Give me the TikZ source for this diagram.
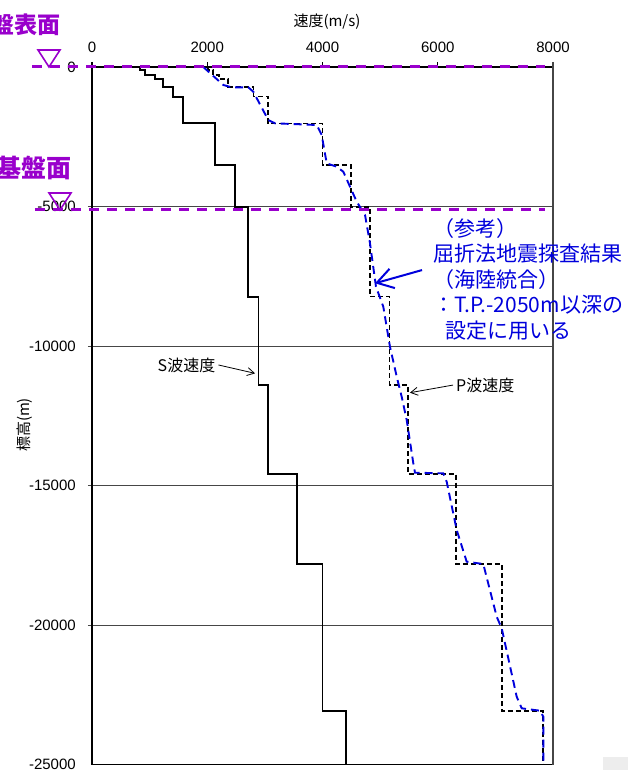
\documentclass[tikz,border=0pt]{standalone}
\usepackage{fontspec}
\setmainfont{Liberation Sans}
\newfontfamily\jp{Noto Sans CJK JP}
\usetikzlibrary{arrows.meta}
\definecolor{levelpurple}{RGB}{153,0,204}
\definecolor{refblue}{RGB}{0,0,220}
\definecolor{gridgray}{RGB}{70,70,70}

\begin{document}
\begin{tikzpicture}[x=57.625pt, y=27.9pt,
	gridline/.style={gridgray, line width=1pt},
	swave/.style={black, line width=1.9pt},
	pwave/.style={black, line width=1.7pt, dash pattern=on 5pt off 3pt},
	refwave/.style={refblue, line width=1.9pt, dash pattern=on 8pt off 5pt},
	levelline/.style={levelpurple, line width=3pt, dash pattern=on 10pt off 8pt},
	leveltri/.style={levelpurple, line width=1.6pt},
	levellbl/.style={levelpurple, anchor=east, inner sep=0pt},
	ticklbl/.style={font=\fontsize{15}{18}\selectfont, inner sep=0pt},
	jplbl/.style={font=\jp\fontsize{15}{18}\selectfont, inner sep=0pt},
	wavelbl/.style={font=\jp\fontsize{16}{19}\selectfont, inner sep=3pt},
	lblarrow/.style={-{Straight Barb[length=7pt,width=8pt]}, line width=0.8pt},
	reftext/.style={refblue, font=\jp\fontsize{21}{25.5}\selectfont, align=left, anchor=north west, inner sep=0pt},
	refarrow/.style={refblue, line width=2pt, -{Straight Barb[length=16pt,width=20pt]}}
	]
	\useasboundingbox (-92pt,-703pt) rectangle (536pt,67pt);
	\fill[black!7] (511pt,-690pt) rectangle (536pt,-703pt);
	
	% Gridlines
	\foreach \d in {5,10,15,20}
		\draw[gridline] (-0.07,-\d) -- (8,-\d);
	
	% Axes
	\draw[line width=1.5pt] (0,0) -- (8,0);
	\draw[line width=1.2pt] (0,0.18) -- (0,-25) -- (8,-25);
	\draw[gridgray, line width=1.5pt] (8,0.18) -- (8,-25);
	\foreach \v in {2,4,6}
		\draw[line width=1pt] (\v,0) -- (\v,0.18);
	\foreach \v/\t in {0/0,2/2000,4/4000,6/6000,8/8000}
		\node[ticklbl] (vx\v) at (\v,0.699) {\t};
	\foreach \d/\t in {0/0,5/-5000,10/-10000,15/-15000,20/-20000,25/-25000}
		\node[ticklbl, anchor=east] (dz\d) at (-0.278,-\d) {\t};
	\node[jplbl] (xlab) at (4.078,1.613) {速度(m/s)};
	\node[jplbl, rotate=90] (ylab) at (-1.171,-12.83) {標高(m)};
	
	% S wave
	\draw[swave] (0.71,0) -- (0.83,0) |- (0.92,-0.11) |- (1.09,-0.29) |- (1.23,-0.43) |- (1.41,-0.72) |- (1.58,-1.06) |- (2.13,-2.02) |- (2.48,-3.51) |- (2.71,-5.01) |- (2.89,-8.23) |- (3.06,-11.40) |- (3.56,-14.59) |- (4.00,-17.81) |- (4.40,-23.08) -- (4.40,-25);
	
	% P wave
	\draw[pwave] (2.01,0) |- (2.10,-0.11) |- (2.20,-0.29) |- (2.365,-0.43) |- (2.80,-0.72) |- (3.06,-1.06) |- (4.00,-2.02) |- (4.49,-3.51) |- (4.82,-5.01) |- (5.16,-8.23) |- (5.48,-11.40) |- (6.32,-14.59) |- (7.11,-17.81) |- (7.83,-23.08) -- (7.83,-25);
	
	% Refraction survey
	\draw[refwave] (1.931,0) -- (2.279,-0.645) -- (2.424,-0.728) -- (2.712,-0.728) -- (2.799,-0.885) -- (3.059,-1.900) -- (3.176,-2.018) -- (3.899,-2.079) -- (3.986,-2.437) -- (4.073,-3.452) -- (4.246,-3.573) -- (4.361,-3.753) -- (4.594,-4.828) -- (4.738,-5.305) -- (4.824,-6.319) -- (4.928,-7.875) -- (5.055,-8.591) -- (5.171,-10.025) -- (5.288,-11.100) -- (5.374,-11.817) -- (5.461,-12.652) -- (5.576,-14.204) -- (5.605,-14.541) -- (6.096,-14.563) -- (6.155,-14.864) -- (6.329,-16.595) -- (6.502,-17.731) -- (6.790,-17.814) -- (7.023,-19.703) -- (7.110,-20.118) -- (7.370,-22.570) -- (7.457,-22.986) -- (7.774,-23.072) -- (7.832,-23.287) -- (7.832,-25);
	
	% Labels
	\node[wavelbl] (slab) at (1.640,-10.68) {S波速度};
	\coordinate (stip) at (2.829,-10.98);
	\draw[lblarrow] (slab.east) -- (stip);
	\node[wavelbl] (plab) at (6.825,-11.40) {P波速度};
	\coordinate (ptip) at (5.518,-11.674);
	\draw[lblarrow] (plab.west) -- (ptip);
	\node[reftext] (ref) at (5.918,-5.412) {（参考）\\屈折法地震探査結果\\（海陸統合）\\：T.P.-2050m以深の\\\hspace*{12pt}設定に用いる};
	\coordinate (reftip) at (4.911,-7.753);
	\draw[refarrow] ([shift={(-11pt,9pt)}]ref.west) -- (reftip);
	
	% Levels
	\draw[levelline] (-1.04,0) -- (7.86,0);
	\draw[levelline] (-0.99,-5.125) -- (7.86,-5.125);
	\coordinate (gstri) at (-0.746,0);
	\coordinate (bstri) at (-0.555,-5.125);
	\draw[leveltri] (gstri) -- ++(-11pt,17pt) -- ++(22pt,0) -- cycle;
	\draw[leveltri] (bstri) -- ++(-11pt,17pt) -- ++(22pt,0) -- cycle;
	\node[levellbl, font=\jp\bfseries\fontsize{23}{26}\selectfont] (gs) at (-0.538,1.52) {盤表面};
	\node[levellbl, font=\jp\bfseries\fontsize{25}{28}\selectfont] (bs) at (-0.347,-3.62) {基盤面};
\end{tikzpicture}
\end{document}
